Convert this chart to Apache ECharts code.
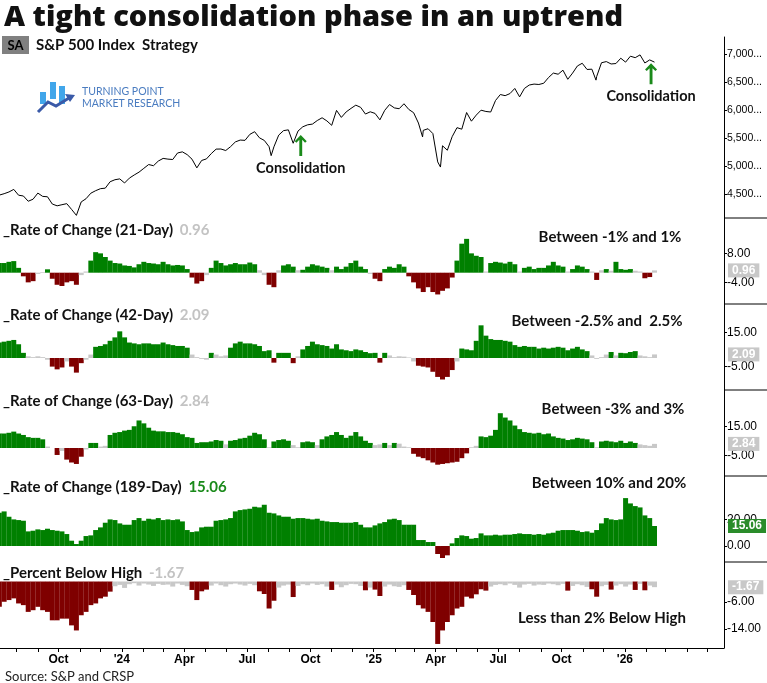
<!DOCTYPE html>
<html><head><meta charset="utf-8">
<script src="https://cdn.jsdelivr.net/npm/echarts@6.0.0/dist/echarts.min.js"></script>
<style>html,body{margin:0;padding:0;background:#fff}#c{width:767px;height:683px}</style>
</head><body><div id="c"></div><script>
// ---------- DATA (weekly, Fridays from 2023-07-07) ----------
const weekStart = '2023-07-07';
const price = [4480,4505,4536,4582,4478,4464,4370,4406,4516,4457,
4450,4320,4288,4308,4327,4224,4117,4358,4415,4514,
4559,4595,4604,4719,4755,4770,4697,4784,4840,4891,
4959,5027,5006,5089,5137,5124,5117,5234,5254,5204,
5123,4967,5100,5128,5223,5303,5305,5278,5347,5432,
5465,5460,5567,5615,5505,5459,5346,5344,5554,5634,
5648,5408,5626,5703,5738,5751,5815,5864,5808,5729,
5996,5871,5969,6032,6090,6051,5931,5971,5942,5827,
5997,6101,6041,6026,6115,6013,5955,5770,5639,5668,
5581,5074,5363,5283,5525,5687,5660,5958,5803,5912,
6000,5977,5967,6173,6280,6260,6297,6389,6238,6389,
6450,6467,6460,6482,6584,6664,6644,6716,6553,6664,
6792,6840,6729,6734,6603,6849,6870,6827,6835,6930,
6860,6966,6940,6990,6845,6900,6860];
const priceExtremes = [['2024-08-05',5186],['2025-03-13',5521],['2025-04-08',4982],['2025-11-20',6538]];
const roc21 = [4,4,4.5,4.8,2,-1.5,-4,-3.5,-0.5,0.3,
1.4,-2.5,-5,-5.5,-4,-3.5,-5,-1,0.5,5,
8.5,8,6.5,5,4,3.8,3,2.8,2.2,3.5,
4.5,4,3.8,3.5,4.5,3.5,3,3.2,3,1.5,
-2,-4.5,-3.5,-1,2,5,4,3,3.5,4,
3.5,3.5,4.2,3.5,1,-1,-5,-6,1,3,
3.5,2.5,1,1.2,2.5,3.5,3,2.5,2,1,
2.5,1.5,2.5,4,5,2.5,1.5,-0.5,-2.5,-3.5,
1.5,2.5,2,3.5,2.5,-1.5,-4,-6.5,-8,-6,
-8,-9,-7.5,-6.5,-2,5,12,14,8,7,
6.5,0.5,4,4.5,4.2,3.8,4.5,3.5,0.5,2,
2.5,1.5,2,2,3,4.5,3,2.5,0.5,1.5,
3,2.5,1.5,0.5,-3,1,1.5,0.8,4.5,1.5,
1.2,1.5,0.8,0.5,-2.3,-1.8,0.96];
const roc42 = [9,9.5,10,10.5,8,3,1,0.5,1,0.5,
-1,-5,-6.6,-5.5,-2,-5,-8.5,-3,-1,2,
6.5,7,8,10,12,15.5,12,9,8.5,8,
8.5,8.5,8,8,9,8,7.5,7,7,6,
2,0.5,-0.5,-1,3,2,1,1.5,6,8.5,
9.5,8.5,8.5,8,7,4,4.5,-2.7,3,3,
3,-3,1,5,7,9.5,8,7.5,7,5.5,
8,5,4.5,4,5,4.5,3.5,2.8,3,-2.7,
3,1.5,0.5,1,0.8,0.3,-2,-4.5,-5,-5.5,
-8,-11,-12.5,-11,-7,-2,5.5,5,4.5,10,
19,13,11,10.5,10.5,10,9.5,7.5,6.5,7,
6.5,6.5,5.5,6,5.5,6,6.5,6,4.5,5.5,
6.5,5,4,1.5,-0.5,0.5,2,3.5,1.5,3,
2.8,3.5,4,1.5,1,0.5,2.09];
const roc63 = [10,10,10.5,11.3,10,9,7.5,7,7,6,
1,0,-4.8,-2,-8,-10,-11,-6,-1,3.5,
3.5,1,1.5,9,10.5,11,12,12.5,15,19,
17,14,12,11.5,11.5,11,11,10.5,9.5,7.5,
7,3.5,4,4,4.5,5.5,5,2.5,5,5.5,
6.5,7,8.5,10.5,9.5,6,0.5,4.5,5.5,6,
5,2,0.5,4,4.5,4,2,6,8,9,
11,9,7,8.5,11,8,5,3.5,2,2.5,
3.5,2,3.5,3,1,0.5,-4,-6,-7,-8.5,
-10,-11.5,-11,-10.5,-10,-9.5,-7,-3.7,0.5,1.5,
8,7.5,8.5,12.5,24,21,19,15.5,13,11,
10.5,10,10.5,9.5,10,8,7,6.5,5.5,6,
7,6.5,6,4,0.5,4.5,5,4.5,4,5,
3.5,4.5,3.5,2.5,2,1.5,2.84];
const roc189 = [25,26,22,20,19.5,19,11,11.5,12.5,12,
13,12,11.5,11,9,4,1.5,4,7.5,8,
12,14,17.5,20,19.5,17,16,16,19.5,21,
19,20.5,20,21,19.5,20,19.5,20,18.5,12,
10.5,11,14,14.5,14.5,19,19.5,20,21,26,
27,27.5,28,29.5,29,31,25,24.5,23,22,
22,20.5,21,21,20.5,20,20.5,19,18.5,18,
18,17.5,17.5,17.5,18,16,14,14,15.5,17,
18,20,20.5,19.5,16,16,16,4.5,4.5,3,
3,-6,-9,-7,2,6,8,7.5,5.5,6,
9.5,8,8,8.5,8,8.5,8.5,9,9.5,9,
9,8.5,9,8.5,9.5,10,11.5,12,12,12,
11.5,10.5,11,10,12,17,21,20,19.5,20,
36,32,30,29,23,21,15.06];
const pbh = [-7.5,-6,-5.5,-5,-6.5,-7,-9,-8.5,-7.5,-8.5,
-9,-11.5,-11.5,-11,-11,-13,-14.5,-10,-9,-7,
-6.5,-5,-4.5,-3,-1.4,-1,-1.9,-0.8,-0.5,-1.2,
-0.6,-0.9,-1.3,-0.7,-1,-0.9,-1.5,-0.6,-1,-1.4,
-2.5,-5.5,-2.9,-2.4,-1.2,-0.6,-1.1,-1.5,-0.8,-0.6,
-0.9,-1.2,-0.7,-1.1,-2.9,-3.7,-8,-5.7,-1.8,-1.2,
-0.9,-4.6,-1.3,-0.8,-1.1,-0.6,-1,-0.8,-1.5,-2.5,
-0.9,-1.7,-1.1,-0.7,-0.8,-1.3,-2.6,-1.8,-2.4,-4.3,
-1.5,-0.9,-1.4,-1.6,-1.1,-2.5,-4,-7,-8,-9,
-12,-18.5,-14.5,-12,-10,-8,-7.5,-4.5,-5,-3.8,
-2.3,-2.7,-1.5,-1,-0.8,-1.1,-0.6,-1,-1.8,-0.9,
-0.7,-1.2,-0.9,-1,-0.6,-0.8,-1.1,-0.7,-2.7,-1.3,
-0.8,-1.1,-1.6,-2.3,-4.5,-1.4,-1,-2.4,-1.2,-0.8,
-1.5,-0.9,-2.5,-0.7,-2.6,-1.2,-1.67];
const quarterTicks = ['2023-10-01','2024-01-01','2024-04-01','2024-07-01','2024-10-01','2025-01-01','2025-04-01','2025-07-01','2025-10-01','2026-01-01'];
const monthTicks = ['2023-08-01','2023-09-01','2023-10-01','2023-11-01','2023-12-01','2024-01-01','2024-02-01','2024-03-01','2024-04-01','2024-05-01','2024-06-01','2024-07-01','2024-08-01','2024-09-01','2024-10-01','2024-11-01','2024-12-01','2025-01-01','2025-02-01','2025-03-01','2025-04-01','2025-05-01','2025-06-01','2025-07-01','2025-08-01','2025-09-01','2025-10-01','2025-11-01','2025-12-01','2026-01-01','2026-02-01','2026-03-01','2026-04-01','2026-05-01'];
const priceTicks = [4500,5000,5500,6000,6500,7000];
const notes = [{date:'2024-09-17', value:5556, text:'Consolidation'},{date:'2026-02-08', value:6839, text:'Consolidation'}];
const monthNames = ['Jan','Feb','Mar','Apr','May','Jun','Jul','Aug','Sep','Oct','Nov','Dec'];

// ---------- BUILD ----------
const DAY = 86400000;
const utc = s => { const p = s.split('-').map(Number); return Date.UTC(p[0], p[1]-1, p[2]); };
const t0 = utc(weekStart);
const dates = price.map((_, i) => t0 + i*7*DAY);
const xMin = utc('2023-07-08'), xMax = utc('2026-05-25');
const priceData = dates.map((d,i)=>[d, price[i]]).concat(priceExtremes.map(e=>[utc(e[0]), e[1]])).sort((a,b)=>a[0]-b[0]);

const GREEN = '#008000', RED = '#7f0000', GRAY = '#c8c8c8';
const FONT = 'Lato';
const panels = [
  {data: roc21, lo:-1, hi:1, min:-12.95, max:22.63, ticks:[8,-4], title:'_Rate of Change (21-Day)', note:'Between -1% and 1%', ty:230, ny:237, nx:610},
  {data: roc42, lo:-2.5, hi:2.5, min:-18.6, max:31.4, ticks:[15,-5], title:'_Rate of Change (42-Day)', note:'Between -2.5% and  2.5%', ty:315, ny:321, nx:597},
  {data: roc63, lo:-3, hi:3, min:-19.3, max:40, ticks:[15,-5], title:'_Rate of Change (63-Day)', note:'Between -3% and 3%', ty:401, ny:409, nx:613},
  {data: roc189, lo:0, hi:0, min:-12, max:52.6, ticks:[20,0], title:'_Rate of Change (189-Day)', note:'Between 10% and 20%', ty:487, ny:483, nx:609},
  {data: pbh, lo:-2, hi:Infinity, min:-19.7, max:5.78, ticks:[-6,-14], title:'_Percent Below High', note:'Less than 2% Below High', ty:573, ny:618, nx:602}
];
const colorOf = (p, v) => v > p.hi ? GREEN : (v < p.lo ? RED : GRAY);

const gridTops = [37, 218, 304, 390, 476, 562];
const gridH = [181, 86, 86, 86, 86, 86];
const grid = gridTops.map((t,i)=>({left:0, right:43, top:t, height:gridH[i]}));

const xAxis = gridTops.map((_,i)=>{
  const last = i === gridTops.length-1;
  return {type:'value', gridIndex:i, min:xMin, max:xMax, show:true,
    axisLine:{show:last, onZero:false, lineStyle:{color:'#000', width:1}},
    axisTick:{show:last, length:4, lineStyle:{color:'#000'}, customValues: monthTicks.map(utc)},
    axisLabel:{show:last, customValues: quarterTicks.map(utc), margin:6, color:'#000', fontWeight:'bold', fontSize:12, fontFamily:'Liberation Sans',
      formatter: v => { const d = new Date(v); const m = d.getUTCMonth(); return m===0 ? "'" + String(d.getUTCFullYear()).slice(2) : monthNames[m]; }},
    splitLine:{show:false}};
});

const yAxis = [{type:'value', gridIndex:0, position:'right', min:4070, max:7310,
  axisLine:{show:true, lineStyle:{color:'#000'}},
  axisTick:{show:true, length:3, customValues: priceTicks, lineStyle:{color:'#000'}},
  axisLabel:{customValues: priceTicks, margin:3, color:'#000', fontSize:10.5, fontFamily:'Liberation Sans', formatter: v => v.toLocaleString('en-US') + '...'},
  splitLine:{show:false}}].concat(panels.map((p,i)=>({
  type:'value', gridIndex:i+1, position:'right', min:p.min, max:p.max,
  axisLine:{show:true, lineStyle:{color:'#000'}},
  axisTick:{show:true, length:3, customValues: p.ticks, lineStyle:{color:'#000'}},
  axisLabel:{customValues: p.ticks, margin:3, color:'#000', fontSize:12, fontFamily:'Liberation Sans', formatter: v => v.toFixed(2)},
  splitLine:{show:false}})));

const series = [{
  type:'line', xAxisIndex:0, yAxisIndex:0, data:priceData, showSymbol:false, symbol:'none',
  lineStyle:{color:'#000', width:1}, silent:true,
  markPoint:{
    symbol:'path://M5,0 L10,6 L8.6,7.4 L6.2,4.6 L6.2,20 L3.8,20 L3.8,4.6 L1.4,7.4 L0,6 Z',
    symbolSize:[12,21], symbolOffset:[0,'50%'], symbolKeepAspect:false,
    itemStyle:{color:'#1a8a1a'},
    label:{show:true, position:'bottom', distance:5, color:'#111', fontFamily:FONT, fontWeight:'bold', fontSize:14.5, formatter: q => q.name},
    data: notes.map(n=>({name:n.text, coord:[utc(n.date), n.value]}))
  }
}].concat(panels.map((p,i)=>{
  const last = p.data[p.data.length-1];
  return {
    type:'bar', xAxisIndex:i+1, yAxisIndex:i+1, barWidth:5, silent:true,
    data: dates.map((d,k)=>[d, p.data[k]]),
    itemStyle:{color: q => colorOf(p, q.value[1])},
    markLine:{silent:true, symbol:['none','none'], lineStyle:{color:'rgba(0,0,0,0)', width:0, type:'solid'}, animation:false,
      label:{show:true, position:'end', distance:4, formatter: () => last.toFixed(2), opacity:1,
        backgroundColor: colorOf(p,last) === GREEN ? '#2a8c2a' : '#c8c8c8', color:'#fff', fontWeight:'bold', fontSize:12, fontFamily:'Liberation Sans', padding:[1,4,1,4]},
      data:[{yAxis:last}]}
  };
}));

const graphic = [
  {type:'text', style:{x:4, y:18, text:'A tight consolidation phase in an uptrend', font:'800 29px "Open Sans"', fill:'#111', verticalAlign:'middle'}},
  {type:'rect', shape:{x:2, y:36, width:27, height:18}, style:{fill:'#808080'}},
  {type:'text', style:{x:15.5, y:45.5, text:'SA', font:'bold 13px ' + FONT, fill:'#000', align:'center', verticalAlign:'middle'}},
  {type:'text', style:{x:36, y:45.5, text:'S&P 500 Index  Strategy', font:'bold 15px ' + FONT, fill:'#111', verticalAlign:'middle'}},
  {type:'rect', shape:{x:40, y:92, width:6, height:12}, style:{fill:'#41a6ea'}},
  {type:'rect', shape:{x:50, y:82, width:6, height:17}, style:{fill:'#41a6ea'}},
  {type:'rect', shape:{x:59, y:86, width:6, height:18}, style:{fill:'#41a6ea'}},
  {type:'polyline', shape:{points:[[38,112],[48,102],[56,106],[69,98]]}, style:{stroke:'#3a5aa8', lineWidth:3, fill:null}},
  {type:'polygon', shape:{points:[[65,94],[75,95],[70,102]]}, style:{fill:'#3a5aa8'}},
  {type:'text', style:{x:82, y:92, text:'TURNING POINT', font:'10.5px ' + FONT, fill:'#4a7cc0', verticalAlign:'middle'}},
  {type:'text', style:{x:82, y:104, text:'MARKET RESEARCH', font:'10.5px ' + FONT, fill:'#4a7cc0', verticalAlign:'middle'}},
  {type:'text', style:{x:5, y:677, text:'Source: S&P and CRSP', font:'13px ' + FONT, fill:'#222', verticalAlign:'middle'}}
];
gridTops.slice(1).forEach(t => graphic.push({type:'line', shape:{x1:724, y1:t, x2:767, y2:t}, style:{stroke:'#000', lineWidth:1}}));
panels.forEach(p => {
  const last = p.data[p.data.length-1];
  const vc = colorOf(p,last) === GREEN ? '#1a8a1a' : '#c3c3c3';
  graphic.push({type:'text', style:{x:3, y:p.ty, text:'{t|' + p.title + '}  {v|' + last.toFixed(2) + '}', verticalAlign:'middle',
    rich:{t:{font:'bold 15px ' + FONT, fill:'#111'}, v:{font:'bold 15px ' + FONT, fill:vc}}}});
  graphic.push({type:'text', style:{x:p.nx, y:p.ny, text:p.note, font:'bold 15px ' + FONT, fill:'#111', align:'center', verticalAlign:'middle'}});
});

const chart = echarts.init(document.getElementById('c'), null, {renderer:'canvas'});
chart.setOption({animation:false, backgroundColor:'#fff', grid, xAxis, yAxis, series, graphic});
</script></body></html>
